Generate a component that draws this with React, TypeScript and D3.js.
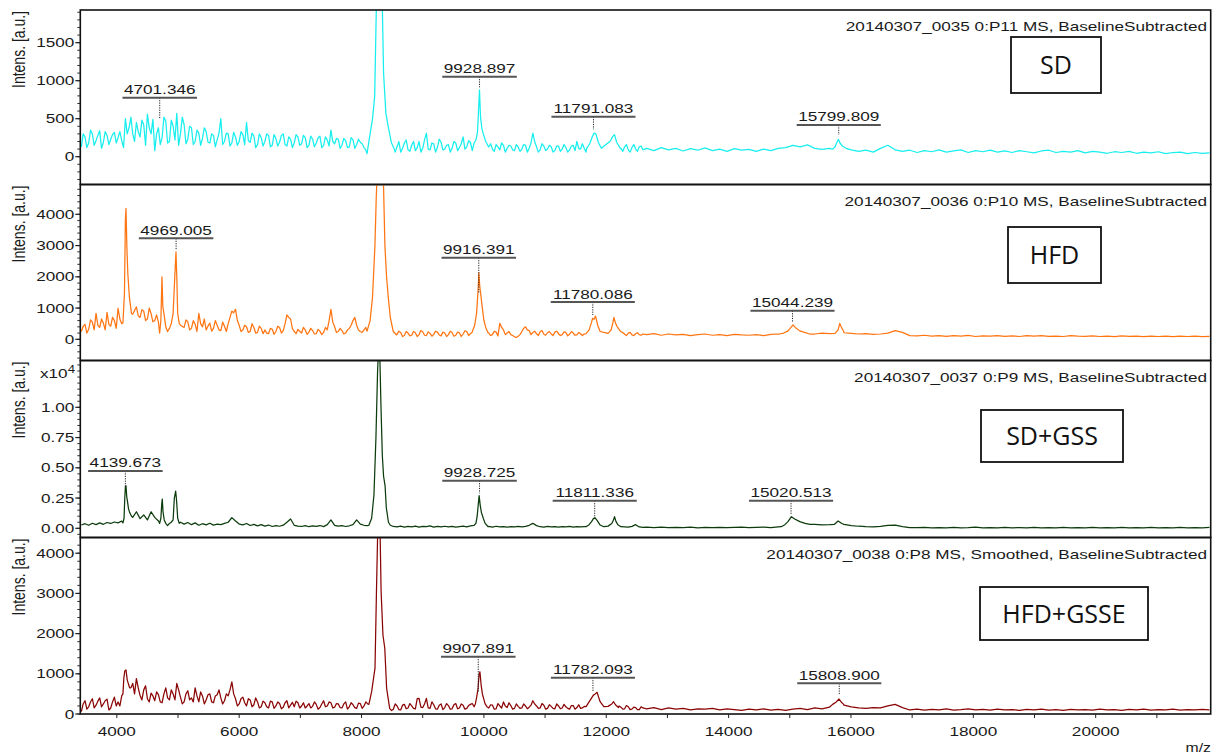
import React from "react";
import * as d3 from "d3";

// ---------------- data ----------------
const MZ_DOMAIN = [3403, 21880];
const X_TICKS = [4000, 6000, 8000, 10000, 12000, 14000, 16000, 18000, 20000];
const X_MINOR = [5000, 7000, 9000, 11000, 13000, 15000, 17000, 19000, 21000];

// sampling grids of the hand-read traces (first, last m/z)
const GRID_LO = [3420, 12600];
const GRID_MID = [3450, 12570];
const GRID_HI = [12660, 21860];

// null = covered by the detailed peak profile
const sdLo = [
  130, 260, 180, 300, 210, 340, 190, 280, 230, 320,
  250, 210, 500, 380, 300, 450, 260, 420, 560, 300,
  80, 380, 250, 470, 200, 400, 570, 300, 420, 230,
  380, 200, 310, 240, 330, 180, 280, 220, 500, 200,
  300, 180, 260, 200, 290, 450, 190, 270, 160, 250,
  200, 280, 150, 240, 190, 300, 140, 230, 180, 260,
  170, 250, 150, 230, 180, 270, 150, 220, 350, 170,
  230, 150, 210, 130, 220, 160, 190, 120, null, null,
  null, null, null, null, null, null, 130, 60, 180, 90,
  150, 80, 200, 110, 310, 90, 170, 120, 190, 100,
  160, 110, 180, 120, 260, 130, 190, null, null, null,
  null, 130, 100, 160, 90, 150, 110, 140, 80, 130,
  100, 150, 110, 310, 130, 90, 140, 100, 130, 80,
  140, 100, 120, 90, 150, 200, 100, 110, null, null,
  null, null, null, null, null, null, null, 110, 130, 90,
  120, 100, 130, 90,
];
const sdMid = [
  300, 120, 350, 150, 280, 110, 330, 160, 290, 180,
  330, 120, 300, 520, 200, 330, 480, 150, 380, 490,
  300, 160, 520, 180, 480, 220, 150, 520, 170, 400,
  160, 350, 150, 380, 190, 300, 130, 310, 160, 310,
  140, 320, 150, 330, 160, 210, 310, 120, 300, 140,
  300, 130, 290, 140, 280, 160, 260, 120, 290, 150,
  280, 120, 270, 130, 250, 120, 260, 140, 200, 240,
  110, 240, 120, 250, 110, 230, 170, 90, null, null,
  null, null, null, null, null, 60, 200, 110, 220, 70,
  200, 120, 60, 220, 100, 180, 60, 230, 90, 150,
  60, 200, 80, 170, 100, 210, 80, null, null, null,
  null, 170, 70, 130, 180, 60, 150, 90, 160, 70,
  160, 60, 180, 200, 60, 170, 80, 150, 60, 140,
  70, 160, 60, 140, 80, 110, 170, 60, null, null,
  null, null, null, null, null, null, null, 70, 160, 60,
  160, 70, 140,
];
const sdHi = [
  110, 80, 120, 90, 110, 75, 105, 85, 115, 80,
  100, 70, 105, 85, 95, 70, 100, 80, 110, 120,
  150, 130, 155, 110, 95, 110, null, null, 90, 70,
  85, 60, 110, 150, 90, 70, 85, 55, 80, 65,
  90, 60, 75, 90, 55, 80, 65, 85, 60, 75,
  55, 80, 65, 50, 75, 85, 55, 70, 60, 80,
  50, 70, 60, 45, 65, 55, 70, 45, 60, 50,
  65, 40, 55, 60, 40, 55, 45, 50,
];
const sdPeaks = [
  [[8090, 40], [8130, 250], [8180, 500], [8215, 800], [8245, 2100], [8275, 3200], [8300, 3500], [8330, 2400], [8360, 1100], [8398, 570], [8440, 380], [8490, 180], [8530, 110]],
  [[9840, 180], [9870, 220], [9895, 320], [9912, 600], [9928, 880], [9945, 520], [9965, 380], [9990, 300], [10030, 200], [10075, 130]],
  [[11680, 110], [11730, 170], [11770, 260], [11800, 310], [11830, 300], [11870, 190], [11920, 110], [11980, 150], [12060, 200], [12110, 270], [12135, 290], [12170, 190], [12230, 110]],
  [[15700, 100], [15740, 130], [15770, 190], [15795, 229], [15820, 180], [15860, 140], [15920, 110]],
];
const sdLabels = [
  { mz: 4701.346, text: "4701.346", tip: 492, level: 776 },
  { mz: 9928.897, text: "9928.897", tip: 913, level: 1053 },
  { mz: 11791.083, text: "11791.083", tip: 360, level: 526 },
  { mz: 15799.809, text: "15799.809", tip: 286, level: 417 },
];

const hfdLo = [
  250, 480, 320, 550, 830, 380, 520, 860, 420, 600,
  990, 500, null, null, 800, 1040, 700, 900, 650, 820,
  600, 550, null, null, 350, null, null, 450, 380, 560,
  350, 480, 830, 400, 300, 520, 350, 450, 280, 420,
  500, 900, 960, 450, 300, 400, 250, 380, 220, 350,
  300, 180, 320, 250, 380, 280, 780, 650, 250, 320,
  200, 300, 230, 280, 180, 260, 220, 300, 960, 400,
  250, 280, 200, 350, 600, 450, 250, 300, null, null,
  null, null, null, null, null, null, 160, 220, 120, 200,
  130, 210, 150, 240, 120, 190, 160, 230, 110, 200,
  150, 220, 130, 210, 170, 250, 180, null, null, null,
  null, 200, 150, 230, 510, 300, 200, 150, 80, 100,
  250, 400, 280, 220, 180, 240, 160, 210, 170, 230,
  180, 150, 220, 160, 200, 140, 180, 170, null, null,
  null, null, null, null, null, null, null, null, 160, 200,
  140, 180, 150, 170,
];
const hfdMid = [
  420, 200, 620, 300, 450, 650, 300, 480, 700, 350,
  650, 380, null, null, null, 750, 950, 600, 1000, 560,
  780, null, null, null, 520, null, null, null, 620, 300,
  600, 250, 500, 650, 420, 260, 600, 300, 550, 250,
  700, 850, 600, 250, 450, 220, 500, 200, 420, 180,
  200, 350, 160, 420, 200, 500, 700, 350, 180, 250,
  380, 160, 350, 170, 320, 150, 380, 600, 550, 220,
  350, 170, 300, 450, 700, 300, 220, 380, null, null,
  null, null, null, null, null, null, 260, 90, 250, 110,
  250, 90, 280, 130, 240, 100, 260, 140, 230, 90,
  260, 100, 230, 90, 270, 120, 230, null, null, null,
  null, 120, 260, 110, 380, 150, 250, 120, 60, 150,
  350, 300, 150, 260, 120, 280, 130, 250, 120, 260,
  120, 240, 110, 250, 130, 220, 120, 230, null, null,
  null, null, null, null, null, null, null, null, 120, 220,
  120, 210, 130,
];
const hfdHi = [
  150, 180, 130, 170, 140, 160, 120, 150, 170, 130,
  150, 120, 160, 140, 130, 150, 120, 160, 170, null,
  null, null, null, 170, 200, 180, null, 210, 190, 170,
  180, 160, 170, 200, 280, 220, 120, 110, 130, 100,
  120, 95, 115, 100, 125, 90, 110, 100, 120, 95,
  110, 90, 115, 100, 120, 95, 105, 90, 115, 100,
  95, 110, 90, 105, 85, 110, 95, 100, 85, 105,
  90, 100, 85, 105, 90, 100, 85, 95,
];
const hfdPeaks = [
  [[4100, 520], [4125, 1500], [4140, 3800], [4150, 4190], [4165, 2900], [4180, 2100], [4205, 1360], [4240, 820]],
  [[4700, 200], [4720, 600], [4738, 2000], [4752, 1040], [4770, 830], [4800, 400], [4830, 250]],
  [[4890, 500], [4920, 830], [4945, 1900], [4967, 2800], [4980, 2000], [4995, 830], [5020, 510]],
  [[8090, 260], [8140, 600], [8180, 1360], [8218, 2960], [8240, 4500], [8255, 5300], [8300, 6000], [8355, 5300], [8382, 3000], [8409, 2000], [8436, 1360], [8470, 700], [8518, 250], [8573, 140]],
  [[9820, 300], [9850, 450], [9880, 830], [9905, 1580], [9918, 2130], [9932, 1700], [9945, 1500], [9972, 1040], [10000, 610], [10030, 380], [10065, 220]],
  [[11670, 180], [11720, 300], [11760, 550], [11776, 670], [11800, 640], [11825, 745], [11860, 450], [11900, 250], [11960, 220], [12030, 190], [12080, 300], [12110, 550], [12125, 700], [12150, 520], [12180, 400], [12230, 260], [12290, 190]],
  [[14830, 170], [14900, 200], [14970, 270], [15020, 380], [15053, 460], [15090, 380], [15163, 270], [15240, 220], [15326, 170]],
  [[15740, 190], [15790, 300], [15817, 510], [15845, 380], [15880, 260]],
];
const hfdLabels = [
  { mz: 4969.005, text: "4969.005", tip: 2880, level: 3232 },
  { mz: 9916.391, text: "9916.391", tip: 1482, level: 2611 },
  { mz: 11780.086, text: "11780.086", tip: 778, level: 1194 },
  { mz: 15044.239, text: "15044.239", tip: 563, level: 915 },
];

const gssLo = [
  270, 380, 250, 420, 300, 450, 330, 480, 400, 520,
  450, 600, null, null, 900, 1370, 800, 1100, 690, 1370,
  900, 600, null, null, 400, null, null, 500, 350, 480,
  300, 450, 250, 380, 280, 420, 260, 350, 300, 400,
  500, 880, 600, 350, 280, 400, 230, 320, 200, 300,
  180, 270, 150, 230, 170, 260, 500, 770, 250, 180,
  150, 220, 130, 200, 160, 230, 140, 300, 690, 250,
  180, 230, 150, 210, 300, 690, 350, 250, 215, null,
  null, null, null, null, null, 150, 120, 180, 100, 150,
  110, 180, 90, 160, 130, 200, 100, 150, 120, 170,
  110, 160, 100, 140, 180, 120, 200, null, null, null,
  null, 150, 100, 170, 120, 140, 90, 130, 110, 150,
  120, 160, 250, 410, 220, 130, 100, 150, 110, 130,
  90, 140, 110, 160, 100, 130, 120, 140, null, null,
  null, null, null, null, null, null, null, null, 120, 90,
  160, 300, 110, 80,
];
const gssMid: (number | null)[] = [];
const gssHi = [
  90, 60, 100, 50, 80, 60, 90, 45, 70, 55,
  85, 50, 70, 90, 55, 75, 100, 60, 110, null,
  null, null, null, 330, 280, 300, null, 330, 230, 170,
  130, 110, 150, 250, 270, 140, 60, 50, 80, 40,
  60, 45, 70, 40, 55, 90, 40, 60, 45, 80,
  40, 55, 45, 85, 40, 50, 45, 80, 40, 55,
  45, 75, 40, 50, 45, 80, 40, 50, 45, 75,
  40, 50, 45, 80, 40, 50, 45, 70,
];
const gssPeaks = [
  [[4100, 450], [4118, 830], [4130, 2500], [4140, 3440], [4150, 3520], [4162, 2600], [4175, 2200], [4190, 1650], [4210, 1300], [4240, 1000]],
  [[4700, 410], [4720, 830], [4735, 2060], [4743, 2420], [4755, 1370], [4775, 690], [4800, 410], [4830, 215]],
  [[4890, 500], [4920, 690], [4940, 2500], [4962, 3080], [4978, 2200], [4995, 830], [5020, 410]],
  [[8120, 250], [8165, 830], [8203, 2750], [8235, 7440], [8262, 12940], [8283, 15500], [8300, 14000], [8318, 10000], [8340, 6000], [8360, 4300], [8385, 3500], [8405, 1700], [8440, 500], [8470, 250]],
  [[9840, 250], [9870, 410], [9890, 1000], [9905, 1800], [9922, 2700], [9940, 1900], [9960, 1300], [9990, 830], [10020, 410], [10070, 130]],
  [[11670, 130], [11720, 300], [11760, 550], [11790, 800], [11814, 880], [11850, 650], [11900, 270], [11960, 130], [12030, 180], [12090, 400], [12120, 700], [12135, 960], [12160, 550], [12190, 300], [12240, 130]],
  [[14860, 130], [14920, 300], [14970, 550], [15027, 960], [15080, 770], [15163, 550], [15250, 400], [15330, 330]],
  [[15730, 330], [15790, 600], [15850, 400]],
];
const gssLabels = [
  { mz: 4139.673, text: "4139.673", tip: 3438, level: 4736 },
  { mz: 9928.725, text: "9928.725", tip: 2893, level: 3934 },
  { mz: 11811.336, text: "11811.336", tip: 959, level: 2281 },
  { mz: 15020.513, text: "15020.513", tip: 1157, level: 2281 },
];

const gsseLo = [
  60, 330, 180, 380, 220, 400, 250, 370, 150, 420,
  300, 450, null, null, 760, 880, 460, 600, 380, 520,
  330, 480, 280, 650, 350, 500, 760, 420, 300, 580,
  400, 650, 300, 450, 350, 500, 280, 480, 400, 330,
  450, 800, 380, 250, 420, 200, 350, 230, 300, 180,
  280, 150, 300, 200, 260, 170, 330, 220, 180, 280,
  200, 150, 260, 190, 240, 160, 330, 200, 280, 170,
  250, 150, 300, 180, 230, 140, 260, 200, 250, null,
  null, null, null, null, null, 120, 200, 100, 240, 150,
  200, 130, 390, 160, 390, 140, 230, 120, 250, 160,
  210, 130, 260, 150, 220, 140, 240, 180, null, null,
  null, 150, 220, 130, 200, 300, 160, 210, 140, 190,
  150, 200, 170, 330, 200, 150, 220, 140, 190, 130,
  200, 150, 180, 120, 210, 160, 140, 190, null, null,
  null, null, null, null, null, null, null, 170, 130, 180,
  120, 160, 110, 150,
];
const gsseMid = [
  250, 120, 300, 150, 320, 180, 330, 100, 300, 200,
  200, null, null, 650, 500, 650, 350, 700, 300, 450,
  550, 300, 500, 400, 600, 350, 600, 250, 500, 350,
  300, 450, 550, 250, 480, 300, 450, 600, 250, 500,
  600, 500, 200, 380, 280, 380, 180, 400, 150, 320,
  180, 320, 140, 300, 130, 280, 150, 290, 320, 150,
  280, 200, 150, 300, 120, 250, 180, 300, 150, 260,
  160, 250, 120, 280, 160, 270, 140, 300, null, null,
  null, null, null, null, null, 250, 110, 220, 130, 260,
  140, 380, 170, 250, 150, 300, 130, 220, 110, 260,
  120, 230, 130, 250, 120, 210, 260, null, null, null,
  null, 230, 120, 260, 150, 200, 280, 120, 250, 140,
  250, 130, 220, 250, 140, 260, 120, 230, 140, 250,
  130, 240, 140, 210, 120, 230, 150, 260, null, null,
  null, null, null, null, null, null, 200, 120, 210, 110,
  170, 110, 180,
];
const gsseHi = [
  130, 160, 110, 150, 120, 140, 100, 130, 120, 140,
  100, 125, 110, 90, 120, 100, 130, 95, 115, 90,
  120, 140, 110, 150, 130, 170, null, 220, 180, 150,
  140, 160, 150, 200, 240, 160, 100, 120, 95, 115,
  100, 125, 95, 110, 130, 100, 115, 95, 120, 100,
  110, 90, 115, 100, 120, 95, 110, 90, 115, 100,
  110, 95, 120, 100, 110, 90, 115, 100, 120, 95,
  110, 100, 120, 95, 110, 100, 115, 105,
];
const gssePeaks = [
  [[4100, 500], [4115, 900], [4130, 1070], [4150, 1095], [4170, 850], [4195, 720], [4210, 650]],
  [[8120, 240], [8165, 555], [8220, 1140], [8246, 3210], [8265, 4600], [8285, 5500], [8300, 4800], [8320, 3040], [8350, 1965], [8380, 1635], [8410, 640], [8460, 140], [8490, 85]],
  [[9860, 250], [9880, 400], [9905, 640], [9920, 970], [9935, 1050], [9955, 720], [9975, 500], [9995, 390], [10020, 250], [10050, 182]],
  [[11670, 182], [11740, 350], [11790, 470], [11820, 500], [11850, 540], [11875, 420], [11900, 306], [11960, 182], [12030, 190], [12090, 250], [12120, 306], [12150, 230], [12200, 160]],
  [[15700, 240], [15760, 300], [15804, 373], [15840, 300], [15880, 240]],
];
const gsseLabels = [
  { mz: 9907.891, text: "9907.891", tip: 555, level: 1425 },
  { mz: 11782.093, text: "11782.093", tip: 555, level: 903 },
  { mz: 15808.9, text: "15808.900", tip: 473, level: 764 },
];

const groupNames = ["SD", "HFD", "SD+GSS", "HFD+GSSE"];
const runTitles = [
  "20140307_0035 0:P11 MS, BaselineSubtracted",
  "20140307_0036 0:P10 MS, BaselineSubtracted",
  "20140307_0037 0:P9 MS, BaselineSubtracted",
  "20140307_0038 0:P8 MS, Smoothed, BaselineSubtracted",
];
const yDomains = [[-366, 1930], [-678, 4954], [-760, 13868], [0, 4391]];
const yMajorTicks = [
  [0, 500, 1000, 1500],
  [0, 1000, 2000, 3000, 4000],
  [0, 2500, 5000, 7500, 10000],
  [0, 1000, 2000, 3000, 4000],
];
const yMinorSteps = [100, 200, 500, 200];
const yTickLabels = [
  ["0", "500", "1000", "1500"],
  ["0", "1000", "2000", "3000", "4000"],
  ["0.00", "0.25", "0.50", "0.75", "1.00"],
  ["0", "1000", "2000", "3000", "4000"],
];

// ---------------- styles / layout ----------------
const COLORS = ["#17EEEE", "#FF7512", "#0C3B0C", "#8A0404"];
const FONT = "'Liberation Sans', Arial, Helvetica, sans-serif";
const BOX_FONT = "'Open Sans', 'Noto Sans', sans-serif";
const SX = 1.32;
const FS = 13;
const W = 1217, H = 755;
const PLOT_L = 80.3, PLOT_R = 1210.7;
const PANEL_TOPS = [10, 184.5, 360.5, 537.5];
const PANEL_BOTTOMS = [184.5, 360.5, 537.5, 714];
const BOXES = [
  { x: 1011, y: 37, w: 90, h: 56 },
  { x: 1008, y: 227, w: 93, h: 56 },
  { x: 981, y: 410, w: 142, h: 52 },
  { x: 980, y: 587, w: 168, h: 53 },
];

const seriesLo = [sdLo, hfdLo, gssLo, gsseLo];
const seriesMid = [sdMid, hfdMid, gssMid, gsseMid];
const seriesHi = [sdHi, hfdHi, gssHi, gsseHi];
const seriesPeaks = [sdPeaks, hfdPeaks, gssPeaks, gssePeaks];
const seriesLabels = [sdLabels, hfdLabels, gssLabels, gsseLabels];

function buildSeries(
  lo: (number | null)[],
  mid: (number | null)[],
  hi: (number | null)[],
  peaks: number[][][]
) {
  const pts: [number, number][] = [];
  const add = (arr: (number | null)[], g: number[]) => {
    if (arr.length < 2) return;
    arr.forEach((v, i) => {
      if (v == null) return;
      const mz = g[0] + (i * (g[1] - g[0])) / (arr.length - 1);
      pts.push([mz, v]);
    });
  };
  add(lo, GRID_LO);
  add(mid, GRID_MID);
  add(hi, GRID_HI);
  const kept = pts.filter(
    ([mz]) => !peaks.some((p) => mz >= p[0][0] && mz <= p[p.length - 1][0])
  );
  peaks.forEach((p) => p.forEach((q) => kept.push([q[0], q[1]])));
  kept.sort((a, b) => a[0] - b[0]);
  return kept;
}

function textWidth(s: string, fs: number) {
  let w = 0;
  for (const c of s) w += c === "." ? 0.278 : 0.556;
  return w * fs * SX;
}

function SText(props: { x: number; y: number; anchor?: string; size?: number; fill?: string; children: React.ReactNode }) {
  const { x, y, anchor = "start", size = FS, fill = "#1a1a1a", children } = props;
  return (
    <text
      transform={`translate(${x},${y}) scale(${SX},1)`}
      textAnchor={anchor as any}
      fontFamily={FONT}
      fontSize={size}
      fill={fill}
    >
      {children}
    </text>
  );
}

export default function App() {
  const x = d3.scaleLinear().domain(MZ_DOMAIN).range([PLOT_L, PLOT_R]);

  const panels = groupNames.map((name, k) => {
    const top = PANEL_TOPS[k];
    const bottom = PANEL_BOTTOMS[k];
    const y = d3.scaleLinear().domain(yDomains[k]).range([bottom, top]);
    const data = buildSeries(seriesLo[k], seriesMid[k], seriesHi[k], seriesPeaks[k]);
    const line = d3
      .line<[number, number]>()
      .x((d) => x(d[0]))
      .y((d) => y(d[1]));
    const [d0, d1] = yDomains[k];
    const step = yMinorSteps[k];
    const minor = d3.range(Math.ceil(d0 / step) * step, d1 + 0.001, step);
    const box = BOXES[k];
    return (
      <g key={name}>
        <clipPath id={`clip${k}`}>
          <rect x={PLOT_L} y={top} width={PLOT_R - PLOT_L} height={bottom - top} />
        </clipPath>
        <path
          d={line(data) || ""}
          fill="none"
          stroke={COLORS[k]}
          strokeWidth={1.25}
          strokeLinejoin="round"
          clipPath={`url(#clip${k})`}
        />
        {minor.map((t) => (
          <line key={`m${t}`} x1={PLOT_L - 3} x2={PLOT_L} y1={y(t)} y2={y(t)} stroke="#333" strokeWidth={1} />
        ))}
        {yMajorTicks[k].map((t, i) => (
          <g key={`t${t}`}>
            <line x1={PLOT_L - 5} x2={PLOT_L} y1={y(t)} y2={y(t)} stroke="#222" strokeWidth={1.2} />
            <SText x={PLOT_L - 6} y={y(t) + 4.6} anchor="end">
              {yTickLabels[k][i]}
            </SText>
          </g>
        ))}
        <text
          transform={`translate(25,${top + 1}) scale(${SX},1) rotate(-90)`}
          textAnchor="end"
          fontFamily={FONT}
          fontSize={14}
          fill="#1a1a1a"
        >
          Intens. [a.u.]
        </text>
        {k === 2 && (
          <text
            transform={`translate(75,${top + 17}) scale(${SX},1)`}
            textAnchor="end"
            fontFamily={FONT}
            fontSize={FS}
            fill="#1a1a1a"
          >
            x10<tspan dy={-5} fontSize={10}>4</tspan>
          </text>
        )}
        <SText x={1207} y={top + 21} anchor="end">
          {runTitles[k]}
        </SText>
        <rect x={box.x} y={box.y} width={box.w} height={box.h} fill="white" stroke="#111" strokeWidth={1.8} />
        <text
          x={box.x + box.w / 2}
          y={box.y + box.h / 2 + 9}
          textAnchor="middle"
          fontFamily={BOX_FONT}
          fontSize={25}
          fill="#111"
        >
          {name}
        </text>
        {seriesLabels[k].map((lb) => {
          const px = x(lb.mz);
          const ly = y(lb.level);
          const ty = y(lb.tip);
          const w = textWidth(lb.text, FS);
          return (
            <g key={lb.text}>
              <line x1={px} x2={px} y1={ly} y2={ty} stroke="#222" strokeWidth={1} strokeDasharray="1.2,1.2" />
              <line x1={px - w / 2 - 1.5} x2={px + w / 2 + 1.5} y1={ly} y2={ly} stroke="#555" strokeWidth={2} />
              <SText x={px} y={ly - 3.5} anchor="middle">
                {lb.text}
              </SText>
            </g>
          );
        })}
        <rect x={PLOT_L} y={top} width={PLOT_R - PLOT_L} height={bottom - top} fill="none" stroke="#111" strokeWidth={1.6} />
      </g>
    );
  });

  const base = PANEL_BOTTOMS[3];
  return (
    <div style={{ position: "absolute", left: 0, top: 0 }}>
      <svg width={W} height={H} viewBox={`0 0 ${W} ${H}`} style={{ display: "block", background: "white" }}>
        <rect x={0} y={0} width={W} height={H} fill="white" />
        {panels}
        {X_MINOR.map((t) => (
          <line key={`xm${t}`} x1={x(t)} x2={x(t)} y1={base} y2={base + 4} stroke="#222" strokeWidth={1} />
        ))}
        {X_TICKS.map((t) => (
          <g key={`xt${t}`}>
            <line x1={x(t)} x2={x(t)} y1={base} y2={base + 4} stroke="#222" strokeWidth={1} />
            <SText x={x(t)} y={736} anchor="middle">
              {String(t)}
            </SText>
          </g>
        ))}
        <SText x={1211} y={752} anchor="end" size={12}>
          m/z
        </SText>
      </svg>
    </div>
  );
}
